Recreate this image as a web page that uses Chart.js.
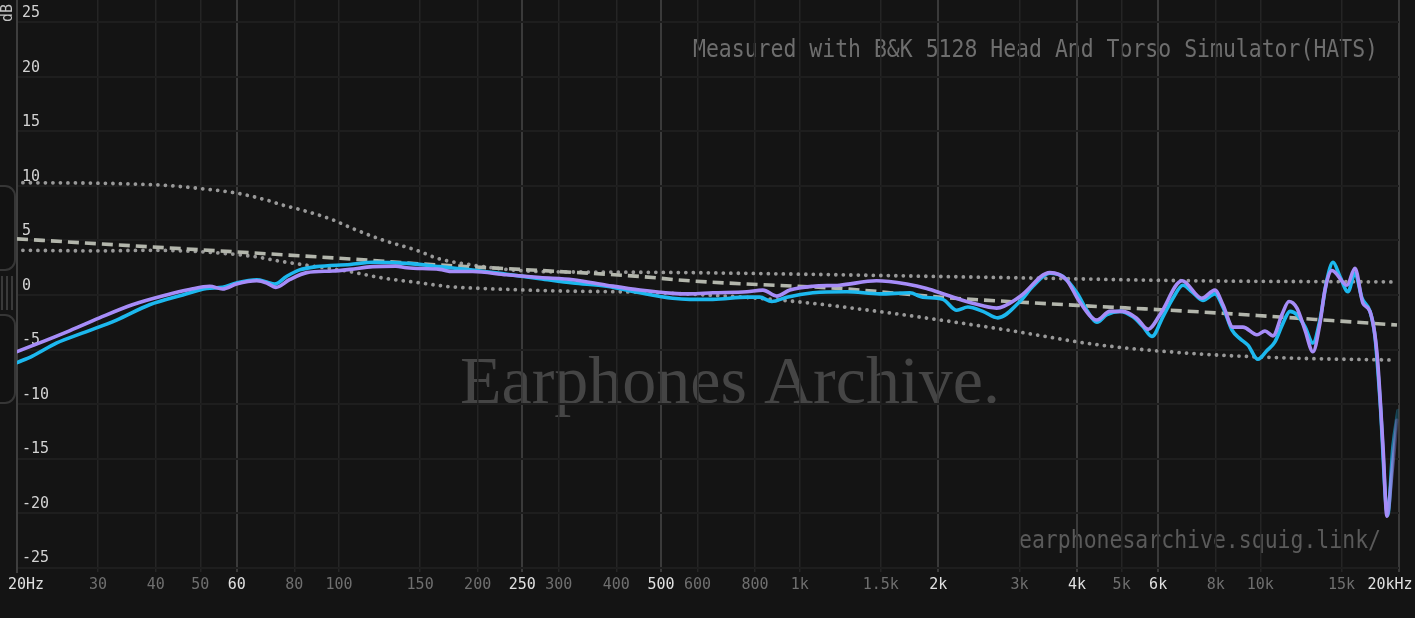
<!DOCTYPE html>
<html>
<head>
<meta charset="utf-8">
<style>
html,body{margin:0;padding:0;background:#141414;overflow:hidden}
#wrap{width:1415px;height:618px;position:relative}
</style>
<script src="https://cdn.jsdelivr.net/npm/chart.js@4.4.1/dist/chart.umd.min.js"></script>
</head>
<body>
<div id="wrap"><canvas id="c"></canvas></div>
<script>
// ---------- data ----------
const xTicks = [20,30,40,50,60,80,100,150,200,250,300,400,500,600,800,1000,1500,2000,3000,4000,5000,6000,8000,10000,15000,20000];
const xTickLabels = ['20Hz','30','40','50','60','80','100','150','200','250','300','400','500','600','800','1k','1.5k','2k','3k','4k','5k','6k','8k','10k','15k','20kHz'];
const xMajorTicks = [20,60,250,500,2000,4000,6000,20000];
const yTicks = [-25,-20,-15,-10,-5,0,5,10,15,20,25];
const yMin = -25.41, yMax = 27.06;

const cyanFreq = [20,21.6,24.4,27.7,32.9,38.8,45.8,51.6,55.9,59.9,66.3,69.7,72.5,76.9,82.1,89.4,105.7,118.3,140.2,165.4,195,231,273,322,381,450,530,577,648,768,819,870,938,1068,1266,1493,1734,1850,2045,2193,2318,2499,2693,3007,3209,3493,3728,3997,4202,4418,4644,4957,5291,5562,5817,6146,6461,6792,7105,7507,7969,8295,8676,9031,9400,9882,10337,10757,11196,11595,12008,12498,13008,13471,13951,14378,14890,15497,16050,16622,17298,17737,18186,18900,19406,19900];
const cyanDb   = [-6.2,-5.6,-4.4,-3.5,-2.3,-0.9,0.0,0.6,0.7,1.1,1.4,1.2,1.0,1.7,2.3,2.6,2.8,3.0,2.9,2.6,2.3,1.9,1.5,1.1,0.8,0.2,-0.3,-0.4,-0.4,-0.2,-0.2,-0.6,-0.2,0.2,0.3,0.1,0.2,-0.2,-0.4,-1.4,-1.1,-1.5,-2.1,-0.6,0.8,2.0,1.7,0.2,-1.4,-2.5,-1.8,-1.5,-2.0,-2.9,-3.8,-2.0,-0.3,0.9,0.3,-0.5,0.1,-1.1,-3.2,-4.0,-4.6,-5.9,-5.1,-4.3,-2.6,-1.5,-1.8,-2.9,-4.4,-2.3,1.4,3.0,1.7,0.3,2.0,-0.3,-1.5,-3.8,-9.6,-20.2,-13.9,-10.6];

const purpleFreq = [20,21.6,25.6,30.2,35.6,42.2,47.4,52.4,55.9,59.9,66.3,69.7,72.9,78.1,85.1,96.9,105.7,118.3,132.8,140.2,165.4,176.5,195,231,273,322,381,450,530,577,648,768,832,892,952,1068,1221,1469,1707,1887,2085,2375,2677,3007,3493,3794,4049,4418,4713,5031,5396,5706,6057,6760,7469,7969,8295,8719,9165,9834,10235,10653,11142,11537,12008,12498,13008,13471,13813,14305,15420,16050,16702,17298,17917,18462,18833,19312,19802];
const purpleDb   = [-5.2,-4.65,-3.4,-2.1,-0.9,0.0,0.5,0.8,0.55,1.0,1.3,1.1,0.7,1.4,2.05,2.2,2.35,2.6,2.65,2.5,2.35,2.15,2.15,1.85,1.6,1.4,0.9,0.45,0.15,0.1,0.2,0.3,0.45,-0.1,0.45,0.8,0.9,1.3,1.0,0.6,0.0,-0.75,-1.2,-0.15,2.05,1.4,-0.6,-2.3,-1.5,-1.5,-2.15,-3.15,-1.8,1.3,-0.3,0.45,-0.9,-2.95,-2.95,-3.65,-3.3,-3.75,-1.8,-0.6,-1.2,-3.2,-5.2,-2.6,0.45,2.25,0.9,2.45,-0.75,-1.5,-5.35,-13.9,-20.3,-16.3,-11.5];

const targetFreq = [20,30,50,82,106,165,273,450,577,1266,2085,2720,4418,7395,19800];
const targetDb   = [5.15,4.7,4.15,3.6,3.3,2.75,2.25,1.7,1.3,0.55,-0.25,-0.55,-1.05,-1.55,-2.75];

const upperFreq = [20.6,30.2,42.2,51.6,59.9,69.7,75.4,82.1,96.9,105.7,124.3,147.4,165.4,195,231,273,381,577,2761,7395,19406];
const upperDb   = [10.3,10.25,10.05,9.7,9.35,8.7,8.25,7.85,6.9,6.2,5.05,4.1,3.3,2.75,2.35,2.15,2.1,2.05,1.6,1.3,1.2];

const lowerFreq = [20.6,30.2,38.8,64.0,75.4,89.4,105.4,124.3,147.4,173.9,205,287,490,903,1493,2761,4484,7395,12190,19406];
const lowerDb   = [4.1,4.05,4.1,3.58,3.06,2.6,2.15,1.56,1.15,0.76,0.6,0.39,0.21,-0.46,-1.53,-3.15,-4.59,-5.41,-5.81,-5.96];

// ---------- helpers ----------
const toXY = (f, d) => f.map((v, i) => ({x: v, y: d[i]}));
const BG = '#141414';
const MONO = "'DejaVu Sans Mono', monospace";

function fadeEnd(hex) {
  return (ctx) => {
    const ch = ctx.chart, a = ch.chartArea;
    if (!a) return hex;
    const g = ch.ctx.createLinearGradient(a.left, 0, a.right, 0);
    g.addColorStop(0, hex);
    g.addColorStop(0.9915, hex);
    g.addColorStop(1, hex + '1a');
    return g;
  };
}

const decor = {
  id: 'decor',
  beforeDraw(chart) {
    const c = chart.ctx;
    c.save();
    c.fillStyle = BG;
    c.fillRect(0, 0, chart.width, chart.height);

    // watermark
    c.fillStyle = '#454545';
    c.font = "68px 'Liberation Serif', serif";
    c.textAlign = 'center';
    c.textBaseline = 'alphabetic';
    c.fillText('Earphones Archive.', 730, 403);

    // top-right note
    c.fillStyle = '#6e6e6e';
    c.font = "24px " + MONO;
    c.textAlign = 'right';
    let t = 'Measured with B&K 5128 Head And Torso Simulator(HATS)';
    let w = c.measureText(t).width;
    c.save();
    c.translate(1378, 57);
    c.scale(685 / w, 1);
    c.fillText(t, 0, 0);
    c.restore();

    // bottom-right url
    c.fillStyle = '#5a5a5a';
    t = 'earphonesarchive.squig.link/';
    w = c.measureText(t).width;
    c.save();
    c.translate(1381, 548);
    c.scale(362 / w, 1);
    c.fillText(t, 0, 0);
    c.restore();

    // left handle
    c.strokeStyle = '#363636';
    c.lineWidth = 2;
    c.fillStyle = '#121212';
    c.beginPath(); c.roundRect(-12, 186, 27, 84, 10); c.fill(); c.stroke();
    c.beginPath(); c.roundRect(-12, 315, 27, 88, 10); c.fill(); c.stroke();
    c.strokeStyle = '#3a3a3a';
    [2, 7, 12].forEach(x => { c.beginPath(); c.moveTo(x, 276); c.lineTo(x, 310); c.stroke(); });

    // dB label
    c.translate(8, 13);
    c.rotate(-Math.PI / 2);
    c.fillStyle = '#c4c4c4';
    c.font = "15px " + MONO;
    c.textAlign = 'center';
    c.textBaseline = 'middle';
    c.fillText('dB', 0, 0);
    c.restore();
  }
};

const isMajor = v => xMajorTicks.includes(v);

new Chart(document.getElementById('c'), {
  type: 'line',
  data: {
    datasets: [
      {data: toXY(purpleFreq, purpleDb), borderColor: fadeEnd('#a68cf8'), borderWidth: 3.6},
      {data: toXY(cyanFreq, cyanDb), borderColor: fadeEnd('#1cb8ee'), borderWidth: 3.6},
      {data: toXY(targetFreq, targetDb), borderColor: '#b3b6ac', borderWidth: 3.6, borderDash: [11, 6], borderCapStyle: 'butt'},
      {data: toXY(upperFreq, upperDb), borderColor: '#999999', borderWidth: 3.8, borderDash: [0.001, 7.5], borderCapStyle: 'round'},
      {data: toXY(lowerFreq, lowerDb), borderColor: '#999999', borderWidth: 3.8, borderDash: [0.001, 7.5], borderCapStyle: 'round'}
    ]
  },
  options: {
    responsive: true,
    maintainAspectRatio: false,
    animation: false,
    devicePixelRatio: 1,
    layout: {padding: {left: 17, right: 16, top: 0, bottom: 0}},
    plugins: {legend: {display: false}, tooltip: {enabled: false}},
    elements: {
      point: {radius: 0},
      line: {cubicInterpolationMode: 'monotone', borderCapStyle: 'round', borderJoinStyle: 'round', fill: false}
    },
    scales: {
      x: {
        type: 'logarithmic', min: 20, max: 20000,
        afterBuildTicks: s => { s.ticks = xTicks.map(v => ({value: v})); },
        afterFit: s => { s.height = 46; s.paddingLeft = 0; s.paddingRight = 0; },
        grid: {
          drawTicks: false,
          color: c => isMajor(c.tick && c.tick.value) ? '#3a3a3a' : '#252525',
          lineWidth: c => isMajor(c.tick && c.tick.value) ? 2 : 1.5
        },
        border: {display: false},
        ticks: {
          autoSkip: false, maxRotation: 0, minRotation: 0, padding: 4,
          font: {family: MONO, size: 15},
          color: c => isMajor(c.tick && c.tick.value) ? '#e0e0e0' : '#6f6f6f',
          callback: (v, i) => i === 0 ? '  ' + xTickLabels[i] : (i === xTickLabels.length - 1 ? xTickLabels[i] + '  ' : xTickLabels[i])
        }
      },
      y: {
        min: yMin, max: yMax,
        afterBuildTicks: s => { s.ticks = yTicks.map(v => ({value: v})); },
        afterFit: s => { s.width = 0; s.paddingTop = 0; s.paddingBottom = 0; },
        grid: {drawTicks: false, color: '#1e1e1e', lineWidth: 2},
        border: {display: true, color: '#3e3e3e', width: 2},
        ticks: {
          mirror: true, padding: 5, labelOffset: -9,
          font: {family: MONO, size: 15},
          color: '#d2d2d2',
          callback: v => String(v)
        }
      }
    }
  },
  plugins: [decor]
});
</script>
</body>
</html>
